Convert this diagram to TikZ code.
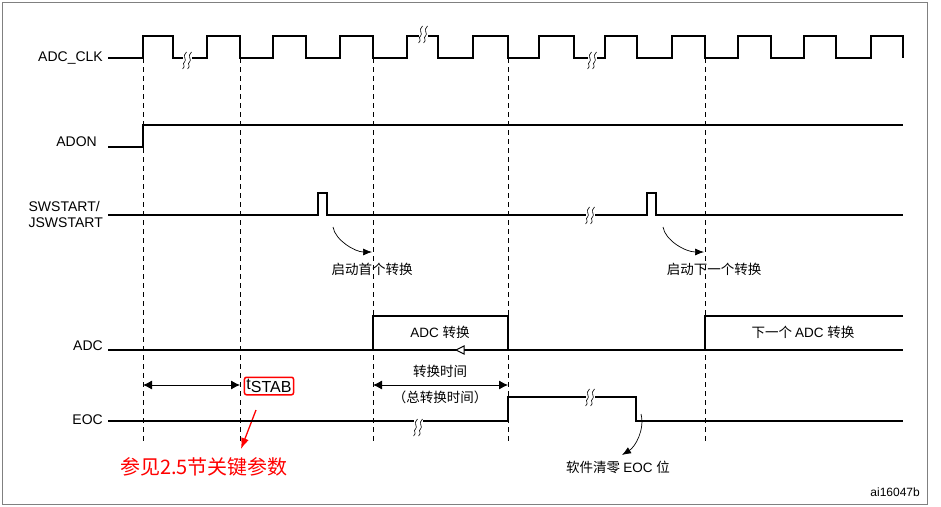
\documentclass[tikz,border=0pt]{standalone}
\usepackage{fontspec}
\setmainfont{Liberation Sans}
\newfontfamily\cjk{Noto Sans CJK SC}
\usetikzlibrary{arrows.meta}
\begin{document}
\begin{tikzpicture}[x=1pt,y=-1pt,
  sig/.style={line width=1.5pt},
  dsh/.style={dash pattern=on 5pt off 4pt,line width=1pt},
  lab/.style={font=\fontsize{14}{16}\selectfont,anchor=east,inner sep=1pt},
  txt/.style={font=\fontsize{13.5}{16}\selectfont\cjk,inner sep=1pt},
  brk/.pic={\draw[line width=0.5pt,white,fill=white] (-4,-9) rectangle (4,9);
    \foreach \d in {-2.5,2.5}{\draw[line width=0.6pt] (\d+2,-8) .. controls (\d-3,-4) and (\d+3,0) .. (\d,2) .. controls (\d-3,4) and (\d+2,6) .. (\d-2,9);}},
  dar/.style={{Latex[length=9pt,width=9pt]}-{Latex[length=9pt,width=9pt]},line width=0.8pt},
  car/.style={-{Latex[length=9pt,width=7pt]},line width=0.7pt}]
\useasboundingbox (0,0) rectangle (941,506);
\draw[gray,line width=0.6pt] (2,2) rectangle (927,504);
% labels
\node[lab] (lclk) at (104,58) {ADC\_CLK};
\node[lab] (ladon) at (98,142) {ADON};
\node[lab,align=left] (lsw) at (104,214) {SWSTART/\\JSWSTART};
\node[lab] (ladc) at (104,346) {ADC};
\node[lab] (leoc) at (104,420) {EOC};
% dashed lines
\foreach \x in {143,240,373,508,705}{\draw[dsh] (\x,58) -- (\x,442);}
% clock
\draw[sig] (108,58) -- (143,58)
  \foreach \r/\f in {143/173,207/240,273/306,340/373,407/438,473/508,539/574,605/637,672/705,738/771,804/836}{ -- (\r,58) -- (\r,36) -- (\f,36) -- (\f,58)} -- (871,58) -- (871,36) -- (903,36) -- (903,58);
\pic at (187,60) {brk};
\pic at (423,34) {brk};
\pic at (592,60) {brk};
% ADON
\draw[sig] (108,147) -- (143,147) -- (143,125) -- (903,125);
% SWSTART
\draw[sig] (108,215) -- (318,215) -- (318,193) -- (327,193) -- (327,215) -- (647,215) -- (647,193) -- (656,193) -- (656,215) -- (903,215);
\pic at (590,215) {brk};
\coordinate (a1) at (333,227); \coordinate (a1e) at (372,252);
\draw[car] (a1) .. controls (335,240) and (355,252) .. (a1e);
\node[txt] (t1) at (372,269) {启动首个转换};
\coordinate (a2) at (663,227); \coordinate (a2e) at (704,252);
\draw[car] (a2) .. controls (665,240) and (685,252) .. (a2e);
\node[txt] (t2) at (714,269) {启动下一个转换};
% ADC
\draw[sig] (108,350) -- (903,350);
\draw[sig] (373,350) -- (373,316) -- (508,316) -- (508,350);
\draw[sig] (705,350) -- (705,316) -- (903,316);
\node[txt] (t3) at (440,332) {\fontspec{Liberation Sans}ADC \cjk 转换};
\node[txt] (t4) at (803,332) {下一个 \fontspec{Liberation Sans}ADC \cjk 转换};
\draw[line width=1pt,fill=white] (456,350) -- (464,346) -- (464,354) -- cycle;
% tstab
\coordinate (s1) at (143,385); \coordinate (s2) at (240,385);
\draw[dar] (s1) -- (s2);
\node[draw=red,line width=1.5pt,rounded corners=2pt,inner sep=2pt,font=\fontsize{16}{18}\selectfont] (ts) at (269,386) {t\raisebox{-3pt}{STAB}};
\draw[red,line width=1.3pt,-{Latex[length=11pt,width=8pt]}] (256,410) -- (241,449);
\node[red,font=\fontsize{20}{22}\selectfont\cjk,inner sep=1pt] (ref) at (204,467) {参见2.5节关键参数};
% conversion time
\coordinate (c1) at (373,385); \coordinate (c2) at (508,385);
\draw[dar] (c1) -- (c2);
\node[txt] (t5) at (440,371) {转换时间};
\node[txt] (t6) at (440,397) {（总转换时间）};
% EOC
\draw[sig] (108,421) -- (508,421) -- (508,397) -- (636,397) -- (636,421) -- (903,421);
\pic at (418,427) {brk};
\pic at (590,397) {brk};
\coordinate (e1) at (641,414); \coordinate (e2) at (622,455);
\draw[car] (e1) .. controls (645,430) and (635,447) .. (e2);
\node[txt] (t7) at (618,467) {软件清零 \fontspec{Liberation Sans}EOC \cjk 位};
\node[font=\fontsize{12}{14}\selectfont,anchor=east,inner sep=1pt] (id) at (921,492) {ai16047b};
\end{tikzpicture}
\end{document}
